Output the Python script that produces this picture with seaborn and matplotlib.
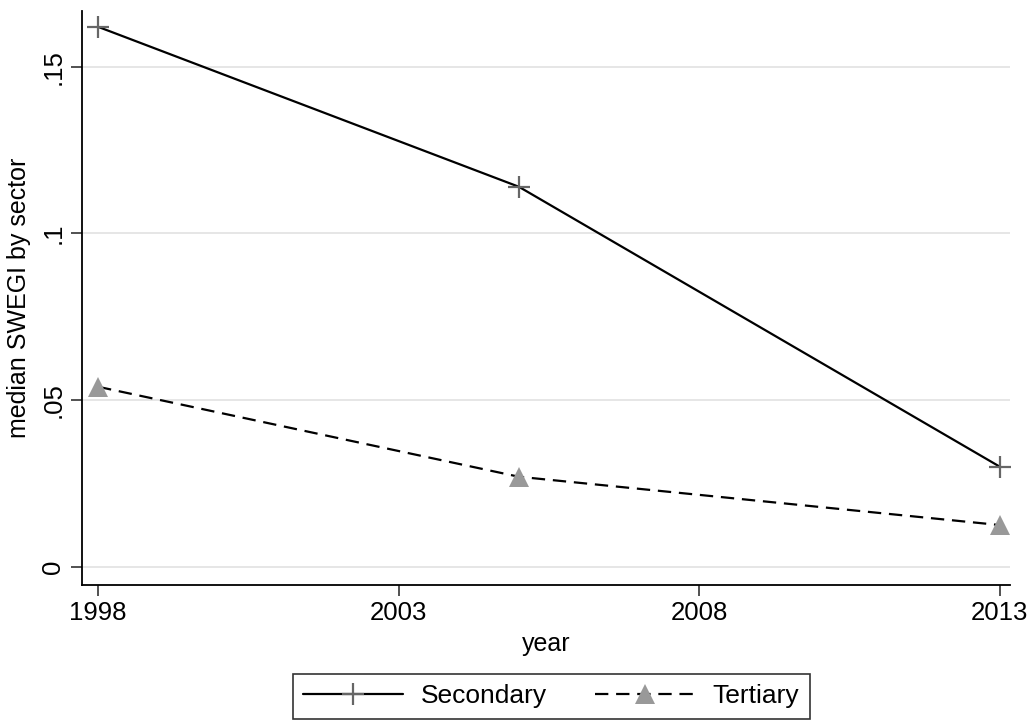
import matplotlib
matplotlib.use("Agg")
import matplotlib.pyplot as plt
import seaborn as sns
import pandas as pd

years = [1998, 2005, 2013]
secondary = [0.162, 0.114, 0.030]
tertiary = [0.054, 0.027, 0.0125]
xticks = [1998, 2003, 2008, 2013]
yticks = [0, 0.05, 0.10, 0.15]
ytick_labels = ["0", ".05", ".1", ".15"]

sns.set_theme(style="white")
plt.rcParams['font.family'] = ['Liberation Sans', 'DejaVu Sans']
plt.rcParams['text.color'] = 'black'
plt.rcParams['axes.labelcolor'] = 'black'
plt.rcParams['xtick.color'] = 'black'
plt.rcParams['ytick.color'] = 'black'

fig = plt.figure(figsize=(10.36, 7.21), dpi=100)
ax = fig.add_axes([0.079, 0.189, 0.896, 0.796])

df_s = pd.DataFrame({"year": years, "value": secondary})
df_t = pd.DataFrame({"year": years, "value": tertiary})

sns.lineplot(data=df_s, x="year", y="value", ax=ax, color="black", lw=1.6,
             marker="+", markersize=16, markeredgewidth=1.6,
             markeredgecolor="#666666", label="Secondary")
sns.lineplot(data=df_t, x="year", y="value", ax=ax, color="black", lw=1.6,
             marker="^", markersize=15, markeredgewidth=0,
             markerfacecolor="#999999", markeredgecolor="#999999",
             dashes=(6, 3.5), label="Tertiary")

ax.set_xlim(1997.73, 2013.17)
ax.set_ylim(-0.0054, 0.1668)
ax.set_xticks(xticks)
ax.set_xticklabels([str(x) for x in xticks], fontsize=18.5)
ax.set_yticks(yticks)
ax.set_yticklabels(ytick_labels, fontsize=18.5, rotation=90, va="center")

ax.grid(False)
for y in yticks:
    ax.axhline(y, color="#e6e6e6", lw=1.4, zorder=0)

for s in ["top", "right"]:
    ax.spines[s].set_visible(False)
for s in ["left", "bottom"]:
    ax.spines[s].set_color("black")
    ax.spines[s].set_linewidth(1.3)

ax.tick_params(axis="both", which="major", direction="out", length=8,
               width=1.2, color="#333333", bottom=True, left=True, pad=4)

ax.set_xlabel("year", fontsize=18, labelpad=5)
ax.set_ylabel("median SWEGI by sector", fontsize=18, labelpad=7)

ax.get_legend().remove()
handles, labels = ax.get_legend_handles_labels()
leg = fig.legend(handles, labels, loc="center", bbox_to_anchor=(0.532, 0.034),
                 bbox_transform=fig.transFigure, ncol=2,
                 fontsize=19, frameon=True, fancybox=False, handlelength=3.8,
                 numpoints=1, columnspacing=1.85, borderpad=0.4,
                 handletextpad=0.64, borderaxespad=0.6)
leg.get_frame().set_edgecolor("black")
leg.get_frame().set_linewidth(1.2)

fig.savefig("out.png", dpi=100)
